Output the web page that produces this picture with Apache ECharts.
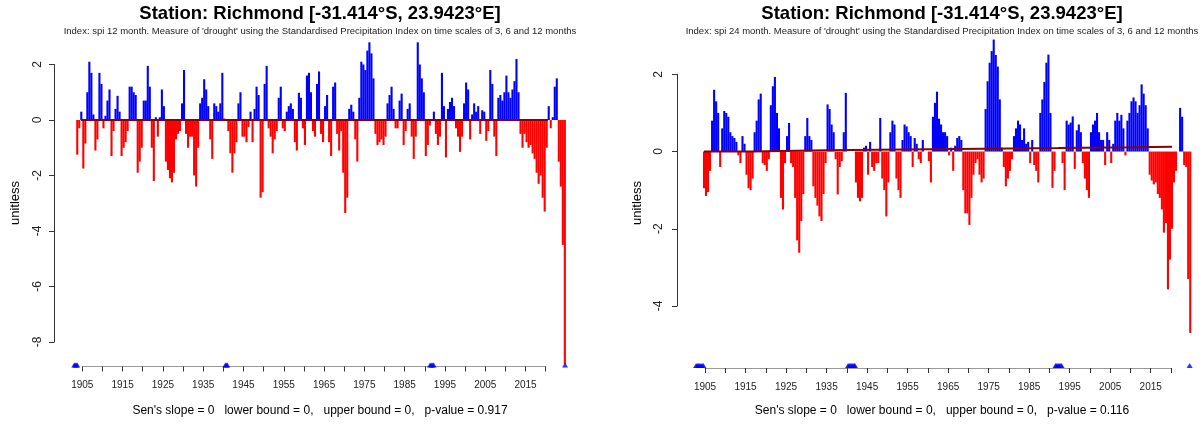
<!DOCTYPE html>
<html>
<head>
<meta charset="utf-8">
<title>Richmond SPI</title>
<script src="https://cdn.jsdelivr.net/npm/echarts@6/dist/echarts.min.js"></script>
<style>
  html, body { margin: 0; padding: 0; background: #fff; }
  #chart { width: 1204px; height: 430px; }
</style>
</head>
<body>
<div id="chart"></div>
<script>
// half-year bins, first bin starts at 1903.5
var binStart = 1903.5;
var binStep = 0.5;

// spi 12 month (left panel), two values per year
var spi12 = [
  -1.25,
  -0.3, 0.3,   -1.75, -0.85,  1.0, 2.1,    1.7, 0.2,    -1.1, -0.7,   1.7, 1.3,     // 1904-1909
  -0.3, 0.15,  0.7, 1.1,     -1.3, -0.4,  0.4, 0.87,   0.3, -1.3,    -1.0, -0.8,   // 1910-1915
  -0.4, 1.2,   1.2, 1.0,     0.9, -1.9,   -1.5, -1.0,                               // 1916-1919
  0.7, 0.7,    1.95, 1.2,    -1.0, -2.2,  0.1, -0.6,   0.1, 1.1,     0.5, -1.5,    // 1920-1925
  -1.8, -2.1,  -2.25, -1.9,  -0.7, -0.5,  -0.4, 0.6,                                // 1926-1929
  1.8, -0.5,   -1.0, -0.6,   -0.6, -2.0,  -2.4, -1.0,  0.6, 0.8,     1.47, 1.1,    // 1930-1935
  0.5, -0.7,   -1.4, 0.6,    0.5, 0.3,    0.6, 1.7,                                 // 1936-1939
  0.05, 0,     -0.4, -1.2,   -1.9, -1.2,  -0.8, 0.6,   1.0, -0.6,    -0.6, -0.8,   // 1940-1945
  -0.25, 0.3,  -0.8, 0.4,    1.2, 0.9,    -2.8, -2.6,                               // 1946-1949
  1.3, 1.95,   -0.3, -0.6,   -1.2, -0.7,  -0.4, 0.8,   1.2, -0.3,    -0.4, 0.3,    // 1950-1955
  0.5, 0.6,    0.4, -0.8,    -1.1, 0.98,  0.8, -0.3,                                // 1956-1959
  -0.9, 1.6,   1.7, 1.0,     -0.4, -0.6,  1.3, 1.75,   -0.5, -0.8,   0.5, 0.9,     // 1960-1965
  -0.8, -1.3,  1.2, 1.35,    -0.5, -1.1,  -0.4, -1.9,                               // 1966-1969
  -3.35, -2.8, 0.4, 0.55,    0.3, -0.7,   -1.5, 0.8,   2.1, 2.0,     1.8, 2.5,     // 1970-1975
  2.8, 2.4,    1.5, -0.5,    -0.9, -0.8,  -0.7, -0.9,                               // 1976-1979
  -0.6, 0.6,   0.9, 1.2,     0.4, -0.3,   -0.3, 0.7,   0.95, -0.9,   -0.4, 0.4,    // 1980-1985
  0.6, -0.6,   -1.4, -0.6,   2.8, 2.0,    1.5, 1.0,                                 // 1986-1989
  -1.3, -0.9,  -0.2, 0,      0.3, -0.5,   -0.9, -0.6,  1.7, 0.5,     -1.35, 0.4,   // 1990-1995
  0.65, 0.8,   0.5, -0.3,    -0.6, -1.15, -0.6, 0.6,                                // 1996-1999
  1.35, 1.1,   -0.7, 0.2,    0.6, 0.3,    0.5, -0.5,   0.35, 0.3,    -0.75, -0.4,  // 2000-2005
  1.8, 1.3,    -0.6, -1.3,   0.8, 0.9,    0.7, 1.0,                                 // 2006-2009
  1.6, 1.0,    0.8, 1.1,     1.4, 2.2,    1.0, -0.5,   -1.0, -0.5,   -0.8, -1.0,   // 2010-2015
  -0.9, -1.2,  -1.4, -1.9,   -2.3, -2.0,  -2.8, -3.3,                               // 2016-2019
  -1.0, 0.5,   -0.3, 0.1,    1.2, 1.5,    -1.5, -2.4,  -4.5, -8.8                   // 2020-2024
];

// spi 24 month (right panel), two values per year
var spi24 = [
  0,
  0, -0.95,    -1.15, -1.05, -0.5, 0.8,   1.6, 1.3,    1.0, -0.4,    0.6, 1.05,    // 1904-1909
  1.0, 0.9,    0.5, 0.4,     0.35, 0.25,  -0.1, -0.3,  0.4, 0.2,     -0.6, -0.95,  // 1910-1915
  -1.0, -0.7,  0.5, 0.8,     1.35, 1.5,   -0.3, -0.35,                              // 1916-1919
  -0.5, -0.2,  1.2, 1.69,    1.93, 1.0,   0.6, -1.2,   -1.5, -0.3,   0.4, 0.74,    // 1920-1925
  -0.3, -0.4,  -1.2, -2.3,   -2.62, -1.8, -1.1, 0.4,                                // 1926-1929
  0.87, 0.4,   0.3, -0.9,    -1.2, -1.4,  -1.68, -1.8, -1.1, -0.3,   1.22, 1.1,    // 1930-1935
  0.7, 0.5,    -0.2, -1.11,  -0.4, -0.25, 0.5, 1.52,                                // 1936-1939
  0, 0,        0, 0,         -0.8, -1.2,  -1.29, -1.2, 0.1, 0.15,    -0.6, 0.25,   // 1940-1945
  -0.4, -0.5,  -0.3, -0.3,   0.87, -0.7,  -1.0, -1.68,                              // 1946-1949
  -0.8, 0.5,   0.8, 0.7,     -0.7, -1.0,  -1.2, 0.3,   0.7, 0.65,    0.5, 0.4,     // 1950-1955
  -0.4, 0.35,  0.2, -0.2,    -0.3, 0.3,   0, 0,                                     // 1956-1959
  -0.25, -0.8, 0.9, 1.26,    1.55, 0.85,  0.7, 0.5,    0.5, 0.4,     -0.1, 0.1,    // 1960-1965
  -0.5, 0.15,  0.35, 0.4,    0.3, -1.0,   -1.6, -1.6,                               // 1966-1969
  -1.9, -1.2,  -0.6, -0.3,   -0.2, -0.6,  -0.8, -0.7,  1.1, 1.82,    2.3, 2.6,     // 1970-1975
  2.9, 2.5,    2.2, 1.35,    0.1, -0.4,   -0.9, -0.7,                               // 1976-1979
  -0.5, -0.2,  0.4, 0.6,     0.8, 0.7,    0.3, 0.6,    0.2, 0.25,    -0.3, 0.3,    // 1980-1985
  -0.35, -0.5, -0.8, 1.0,    1.35, 1.8,   2.3, 2.51,                                // 1986-1989
  1.0, -0.94,  -0.5, 0,      0, 0,        -0.3, -1.0,  0.8, 0.7,     0.75, 0.91,   // 1990-1995
  -0.45, 0.55, 0.7, 0.5,     -0.3, -0.7,  -1.0, -1.2,                               // 1996-1999
  0.5, 0.7,    0.8, 1.0,     0.5, 0.3,    0.3, -0.35,  0.5, 0.3,     -0.3, 0.2,    // 2000-2005
  0.8, 1.0,    0.8, 0.95,    0.6, -0.1,   0.8, 1.0,                                 // 2006-2009
  1.3, 1.4,    1.3, 1.0,     1.2, 1.74,   1.5, 1.2,    0.6, -0.6,    -0.75, -0.85, // 2010-2015
  -0.8, -1.1,  -1.2, -1.5,   -2.1, -1.85, -3.57, -2.8,                              // 2016-2019
  -2.0, -0.8,  -0.5, 0,      1.13, 0.9,   -0.35, -0.4, -3.3, -4.7                   // 2020-2024
];

// months flagged with triangles along the bottom
var missing12 = [1903.0, 1903.25, 1903.5, 1903.75, 1940.5, 1940.75, 1941.0,
  1991.3, 1991.6, 1991.9, 1992.2, 2024.8];
var missing24 = [1902.8, 1903.1, 1903.4, 1903.7, 1904.0, 1904.3, 1904.6,
  1940.3, 1940.6, 1940.9, 1941.2, 1941.5, 1941.8, 1942.0,
  1991.5, 1991.8, 1992.1, 1992.4, 1992.7, 1993.0, 2024.6];

// reference / trend lines
var trend12 = [[1898, 0], [2029.7, 0]];
var trend24 = [[1898, 0], [1916.6, 0.035], [1935.1, 0.055], [1954, 0.075],
  [1973.7, 0.09], [1992.2, 0.11], [2011.1, 0.14], [2030, 0.14]];

var yearLabels = [1905, 1915, 1925, 1935, 1945, 1955, 1965, 1975, 1985, 1995, 2005, 2015];

var titleText = 'Station: Richmond [-31.414°S, 23.9423°E]';
var sub12 = "Index: spi 12 month. Measure of 'drought' using the Standardised Precipitation Index on time scales of 3, 6 and 12 months";
var sub24 = "Index: spi 24 month. Measure of 'drought' using the Standardised Precipitation Index on time scales of 3, 6 and 12 months";
var foot12 = "Sen's slope = 0   lower bound = 0,   upper bound = 0,   p-value = 0.917";
var foot24 = "Sen's slope = 0   lower bound = 0,   upper bound = 0,   p-value = 0.116";

var FONT = 'Liberation Sans, Arial, sans-serif';

function toBars(values) {
  return values.map(function (v, i) {
    return [binStart + i * binStep + binStep / 2, v];
  });
}
function toMarks(years, level) {
  return years.map(function (y) { return [y, level]; });
}
function barColor(p) {
  return p.value[1] >= 0 ? '#0000ff' : '#ff0000';
}

function xAxisFor(idx, offset) {
  return {
    gridIndex: idx, type: 'value', min: 1905, max: 2020, interval: 5, offset: offset,
    axisLine: { onZero: false, lineStyle: { color: '#999', width: 1 } },
    axisTick: { length: 5, lineStyle: { color: '#333' } },
    splitLine: { show: false },
    axisLabel: {
      margin: 14, fontSize: 10, color: '#222', fontFamily: FONT,
      formatter: function (v) { return yearLabels.indexOf(v) >= 0 ? String(v) : ''; }
    }
  };
}
function yAxisFor(idx, min, offset, margin) {
  return {
    gridIndex: idx, type: 'value', min: min, max: 2, interval: 2, offset: offset,
    axisLine: { show: true, onZero: false, lineStyle: { color: '#333', width: 1 } },
    axisTick: { show: true, length: 5, lineStyle: { color: '#333' } },
    splitLine: { show: false },
    axisLabel: { rotate: 90, margin: margin, fontSize: 12, color: '#222', fontFamily: FONT }
  };
}

function panelSeries(idx, values, marks, markLevel, trend, stepped) {
  return [
    {
      type: 'bar', xAxisIndex: idx, yAxisIndex: idx, data: toBars(values),
      barWidth: 2.1, clip: false, itemStyle: { color: barColor }
    },
    {
      type: 'line', xAxisIndex: idx, yAxisIndex: idx, data: trend, step: stepped ? 'end' : false,
      symbol: 'none', clip: false, z: 5, lineStyle: { color: '#8b0000', width: 2 }
    },
    {
      type: 'scatter', xAxisIndex: idx, yAxisIndex: idx, data: toMarks(marks, markLevel),
      symbol: 'triangle', symbolSize: [6, 5], clip: false, z: 6,
      itemStyle: { color: '#0000ff' }
    }
  ];
}

function titlesFor(cx, sub, foot) {
  return [
    { text: titleText, left: cx, top: 4, textAlign: 'center', padding: 0,
      textStyle: { fontSize: 18.5, fontWeight: 'bold', color: '#000', fontFamily: FONT } },
    { text: sub, left: cx, top: 26, textAlign: 'center', padding: 0,
      textStyle: { fontSize: 9.5, fontWeight: 'normal', color: '#222', fontFamily: FONT } },
    { text: foot, left: cx, top: 405, textAlign: 'center', padding: 0,
      textStyle: { fontSize: 12, fontWeight: 'normal', color: '#000', fontFamily: FONT } }
  ];
}

var chart = echarts.init(document.getElementById('chart'));
chart.setOption({
  animation: false,
  backgroundColor: '#fff',
  title: titlesFor(320, sub12, foot12).concat(titlesFor(942, sub24, foot24)),
  grid: [
    { left: 82.3, top: 64.5, width: 463.4, height: 277.5, outerBoundsMode: 'none' },
    { left: 705, top: 74.3, width: 466, height: 231.7, outerBoundsMode: 'none' }
  ],
  xAxis: [xAxisFor(0, 24.5), xAxisFor(1, 62)],
  yAxis: [yAxisFor(0, -8, 28.3, 10), yAxisFor(1, -4, 28, 12)],
  series: panelSeries(0, spi12, missing12, -8.83, trend12, false)
    .concat(panelSeries(1, spi24, missing24, -5.54, trend24, true)),
  graphic: [
    { type: 'text', x: 15, y: 203, rotation: Math.PI / 2,
      style: { text: 'unitless', font: '13px ' + FONT, textAlign: 'center', textVerticalAlign: 'middle', fill: '#000' } },
    { type: 'text', x: 637.5, y: 203, rotation: Math.PI / 2,
      style: { text: 'unitless', font: '13px ' + FONT, textAlign: 'center', textVerticalAlign: 'middle', fill: '#000' } }
  ]
});
</script>
</body>
</html>
